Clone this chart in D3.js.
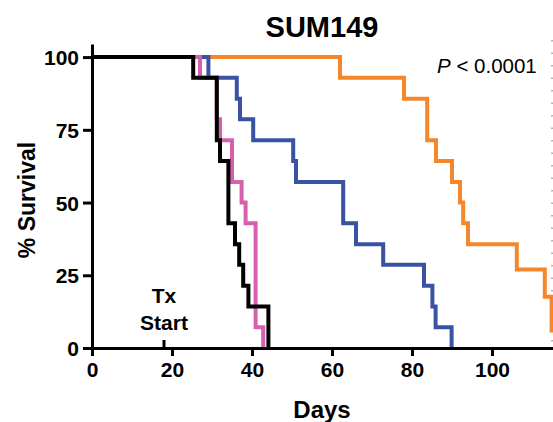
<!DOCTYPE html>
<html>
<head>
<meta charset="utf-8">
<script src="https://cdn.jsdelivr.net/npm/d3@7"></script>
<style>
  body { margin: 0; background: #fff; }
  text { font-family: "Liberation Sans", Arial, sans-serif; }
</style>
</head>
<body>
<div id="chart"></div>
<script>
// Kaplan-Meier steps (day of drop, % survival after drop)
var orangeDays = [0, 62, 78, 83.8, 86, 90, 92, 92.8, 94, 106.2, 113.2, 114.9, 125];
var orangeSurv = [100, 92.9, 85.7, 71.4, 64.3, 57.1, 50, 42.9, 35.7, 27, 17.6, 6, 6];

var blueDays = [0, 29.1, 36.2, 37, 40.3, 50.3, 51, 62.8, 66, 72.8, 83, 85.1, 85.9, 89.9];
var blueSurv = [100, 92.9, 85.7, 78.6, 71.4, 64.3, 57.1, 42.9, 35.7, 28.6, 21.4, 14.3, 7.1, 0];

var pinkDays = [0, 27, 31.2, 32, 35, 37.4, 38.4, 40.9, 42.8];
var pinkSurv = [100, 92.9, 78.6, 71.4, 57.1, 50, 42.9, 7.1, 0];

var blackDays = [0, 25.3, 31.2, 32, 34.1, 35.75, 36.8, 37.8, 39.1, 44.1];
var blackSurv = [100, 92.9, 71.4, 64.3, 42.9, 35.7, 28.6, 21.4, 14.3, 0];

var xTicks = [0, 20, 40, 60, 80, 100];
var yTicks = [0, 25, 50, 75, 100];
var txStartDay = 18;

var svgWidth = 553;
var svgHeight = 422;

var svg = d3.select("#chart")
  .append("svg")
  .attr("width", svgWidth)
  .attr("height", svgHeight);

// scales: 4 px per day, y axis runs a bit past 100
var xScale = d3.scaleLinear().domain([0, 125]).range([92, 592]);
var yScale = d3.scaleLinear().domain([0, 104.5]).range([348, 44]);

// dotted panel edge on the right
svg.append("line")
  .attr("x1", 552).attr("x2", 552)
  .attr("y1", 40).attr("y2", 352)
  .attr("stroke", "#9a9a9a")
  .attr("stroke-width", 1.5)
  .attr("stroke-dasharray", "1.5,11");

var line = d3.line()
  .x(d => xScale(d[0]))
  .y(d => yScale(d[1]))
  .curve(d3.curveStepAfter);

var series = [
  { days: orangeDays, surv: orangeSurv, color: "#f5872a" },
  { days: blueDays, surv: blueSurv, color: "#3a52a3" },
  { days: pinkDays, surv: pinkSurv, color: "#d65fae" },
  { days: blackDays, surv: blackSurv, color: "#000000" }
];

series.forEach(function(s) {
  var pts = s.days.map((d, i) => [d, s.surv[i]]);
  svg.append("path")
    .attr("d", line(pts))
    .attr("fill", "none")
    .attr("stroke", s.color)
    .attr("stroke-width", 4)
    .attr("stroke-linejoin", "miter");
});

// x axis
var xAxis = svg.append("g")
  .attr("transform", `translate(0, ${yScale(0)})`)
  .call(d3.axisBottom(xScale).tickValues(xTicks).tickSize(8).tickSizeOuter(0).tickPadding(6));

// y axis
var yAxis = svg.append("g")
  .attr("transform", `translate(${xScale(0)}, 0)`)
  .call(d3.axisLeft(yScale).tickValues(yTicks).tickSize(9).tickSizeOuter(0).tickPadding(4));

[xAxis, yAxis].forEach(function(ax) {
  ax.select(".domain").attr("stroke", "#000").attr("stroke-width", 3);
  ax.selectAll(".tick line").attr("stroke", "#000").attr("stroke-width", 3);
  ax.selectAll(".tick text")
    .attr("fill", "#000")
    .style("font-family", '"Liberation Sans", Arial, sans-serif')
    .style("font-size", "21px")
    .style("font-weight", "bold");
});
yAxis.selectAll(".tick text").attr("dy", "0.36em");

// treatment start tick
svg.append("line")
  .attr("x1", xScale(txStartDay)).attr("x2", xScale(txStartDay))
  .attr("y1", yScale(0)).attr("y2", yScale(0) - 8)
  .attr("stroke", "#000")
  .attr("stroke-width", 3);

svg.append("text")
  .attr("x", xScale(txStartDay))
  .attr("y", 303)
  .attr("text-anchor", "middle")
  .style("font-size", "21px")
  .style("font-weight", "bold")
  .text("Tx");

svg.append("text")
  .attr("x", xScale(txStartDay))
  .attr("y", 330)
  .attr("text-anchor", "middle")
  .style("font-size", "21px")
  .style("font-weight", "bold")
  .text("Start");

// titles
svg.append("text")
  .attr("x", 322)
  .attr("y", 37)
  .attr("text-anchor", "middle")
  .style("font-size", "29px")
  .style("font-weight", "bold")
  .text("SUM149");

svg.append("text")
  .attr("x", 322)
  .attr("y", 418)
  .attr("text-anchor", "middle")
  .style("font-size", "24px")
  .style("font-weight", "bold")
  .text("Days");

svg.append("text")
  .attr("transform", "translate(35, 200) rotate(-90)")
  .attr("text-anchor", "middle")
  .style("font-size", "23px")
  .style("font-weight", "bold")
  .text("% Survival");

var pText = svg.append("text")
  .attr("x", 437)
  .attr("y", 73)
  .style("font-size", "20.5px");
pText.append("tspan").style("font-style", "italic").text("P");
pText.append("tspan").text(" < 0.0001");
</script>
</body>
</html>
